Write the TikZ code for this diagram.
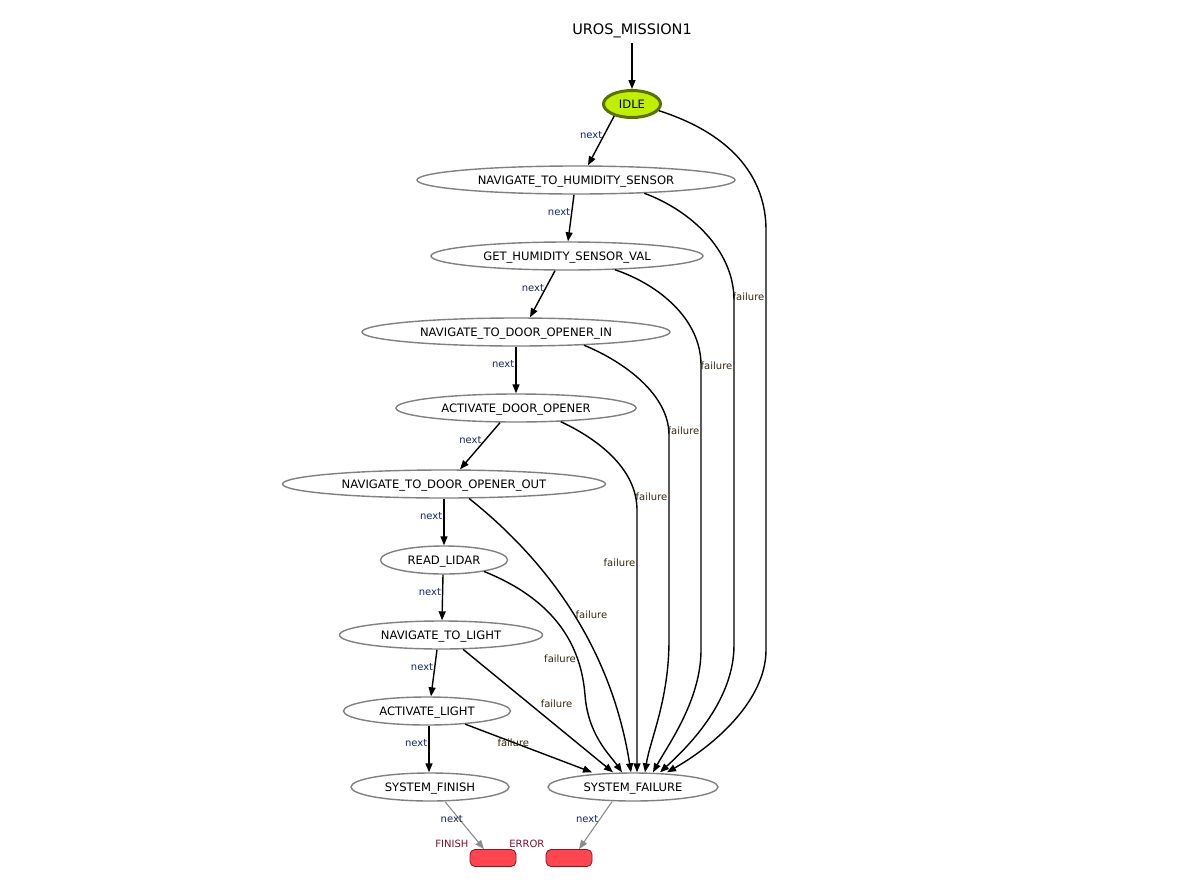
\documentclass[tikz,border=0pt]{standalone}
\usepackage{fontspec}
\setmainfont{DejaVu Sans}
\usetikzlibrary{arrows.meta,shapes.geometric,positioning}
\definecolor{NextB}  {RGB}{20,  35, 100}
\definecolor{FailBr} {RGB}{55,  38,  10}
\definecolor{IdleL}  {RGB}{192,240,   0}
\definecolor{IdleO}  {RGB}{90, 112,   0}
\definecolor{StateG} {RGB}{128,128, 128}
\definecolor{OutR}   {RGB}{255, 70,  80}
\definecolor{OutRD}  {RGB}{140, 20,  30}
\definecolor{OutLbl} {RGB}{128, 16,  40}
\definecolor{EdgeG}  {RGB}{140,140, 140}
\tikzset{
  state/.style={ellipse,draw=StateG,line width=1.4pt,minimum height=28pt,
    inner sep=0pt,text depth=0pt,font=\fontsize{11.6}{13}\selectfont},
  outbox/.style={rectangle,rounded corners=5pt,fill=OutR,draw=OutRD,
    line width=0.8pt,minimum width=46pt,minimum height=17pt},
  nextlbl/.style={font=\fontsize{10}{12}\selectfont,text=NextB,inner sep=1pt},
  faillbl/.style={font=\fontsize{10}{12}\selectfont,text=FailBr,inner sep=1pt},
  outlbl/.style={font=\fontsize{10}{12}\selectfont,text=OutLbl,inner sep=1pt},
  trans/.style={line width=1.4pt,-{Triangle[length=9pt,width=7pt]}},
}
\begin{document}
\begin{tikzpicture}[x=1pt,y=-1pt]
        \useasboundingbox (0,0) rectangle (1181,889);
        \node[font=\fontsize{14.5}{16}\selectfont,text depth=0pt] (mission) at (632,29) {UROS\_MISSION1};
        \node[ellipse,fill=IdleL,draw=IdleO,line width=3pt,minimum width=57pt,
          minimum height=27pt,inner sep=0pt,text depth=0pt,font=\fontsize{11.6}{13}\selectfont]
          (idle) at (632,104) {IDLE};
        \foreach \n/\x/\y/\w/\t in {nh/576/180/318/NAVIGATE\_TO\_HUMIDITY\_SENSOR,
                                    gh/567/256/272/GET\_HUMIDITY\_SENSOR\_VAL,
                                    di/516/332/308/NAVIGATE\_TO\_DOOR\_OPENER\_IN,
                                    ad/516/408/240/ACTIVATE\_DOOR\_OPENER,
                                    do/444/484/323/NAVIGATE\_TO\_DOOR\_OPENER\_OUT,
                                    li/444/560/127/READ\_LIDAR,
                                    nl/441/635/203/NAVIGATE\_TO\_LIGHT,
                                    al/427/711/167/ACTIVATE\_LIGHT,
                                    sf/430/787/158/SYSTEM\_FINISH,
                                    sfail/633/787/170/SYSTEM\_FAILURE}{
          \node[state,minimum width=\w pt] (\n) at (\x,\y) {\t};}
        \node[outbox] (finbox) at (493,858) {};
        \node[outbox] (errbox) at (569,858) {};
        \node[outlbl,anchor=south east] at (finbox.north west) {FINISH};
        \node[outlbl,anchor=south east] at (errbox.north west) {ERROR};
        % next transitions
        \draw[trans,shorten <=5pt] (mission) -- (idle);
        \draw[trans] (idle.-146) -- node[nextlbl,left,pos=0.39]{next} ([xshift=12pt]nh.north);
        \draw[trans] ([xshift=-2pt]nh.south) -- node[nextlbl,left,pos=0.37]{next} ([xshift=1pt]gh.north);
        \draw[trans] ([xshift=-12pt]gh.south) -- node[nextlbl,left,pos=0.37]{next} ([xshift=14pt]di.north);
        \draw[trans] (di.south) -- node[nextlbl,left,pos=0.37]{next} (ad.north);
        \draw[trans] ([xshift=-16pt]ad.south) -- node[nextlbl,left=2pt,pos=0.37]{next} ([xshift=16pt]do.north);
        \draw[trans] (do.south) -- node[nextlbl,left,pos=0.37]{next} (li.north);
        \draw[trans] ([xshift=-1pt]li.south) -- node[nextlbl,left,pos=0.37]{next} ([xshift=1pt]nl.north);
        \draw[trans] ([xshift=-4pt]nl.south) -- node[nextlbl,left,pos=0.37]{next} ([xshift=4pt]al.north);
        \draw[trans] ([xshift=2pt]al.south) -- node[nextlbl,left,pos=0.37]{next} ([xshift=-1pt]sf.north);
        \draw[trans,line width=1.1pt,color=EdgeG] ([xshift=15pt]sf.south)
          -- node[nextlbl,left=-5pt,pos=0.37]{next} ([xshift=-9pt]finbox.north);
        \draw[trans,line width=1.1pt,color=EdgeG] ([xshift=-21pt]sfail.south)
          -- node[nextlbl,left,pos=0.37]{next} ([xshift=10pt]errbox.north);
        % failure transitions
        \draw[trans] (idle.-14) .. controls (735,135) and (766,180) .. (766,230)
          -- node[faillbl,left,pos=0.16]{failure} (766,650)
          .. controls (766,700) and (715,745) .. ([xshift=34pt]sfail.north);
        \draw[trans] (nh.-11) .. controls (690,210) and (734,250) .. (734,300)
          -- node[faillbl,left,pos=0.19]{failure} (734,645)
          .. controls (734,700) and (690,745) .. ([xshift=27pt]sfail.north);
        \draw[trans] (gh.-16) .. controls (660,285) and (701,320) .. (701,365)
          -- node[faillbl,left,pos=0.23]{failure} (701,650)
          .. controls (701,700) and (668,745) .. ([xshift=20pt]sfail.north);
        \draw[trans] (di.-11) .. controls (625,362) and (669,395) .. (669,435)
          -- node[faillbl,left,pos=0.30]{failure} (669,640)
          .. controls (669,700) and (650,740) .. ([xshift=12pt]sfail.north);
        \draw[trans] (ad.-17) .. controls (600,440) and (637,470) .. (637,510)
          -- node[faillbl,left,pos=0.2]{failure} ([xshift=4pt]sfail.north);
        \draw[trans] (do.-30) .. controls (540,555) and (610,640)
          .. node[faillbl,right,pos=0.53]{failure} ([xshift=-2pt]sfail.north);
        \draw[trans] (li.-16) .. controls (555,600) and (581,645)
          .. node[faillbl,left,pos=0.75]{failure} (585,695)
          .. controls (588,735) and (610,755) .. ([xshift=-11pt]sfail.north);
        \draw[trans] (nl.-33) -- node[faillbl,right=10pt,pos=0.44]{failure} ([xshift=-20pt]sfail.north);
        \draw[trans] (al.-19) -- node[faillbl,pos=0.38]{failure} ([xshift=-41pt]sfail.north);
      \end{tikzpicture}
\end{document}
